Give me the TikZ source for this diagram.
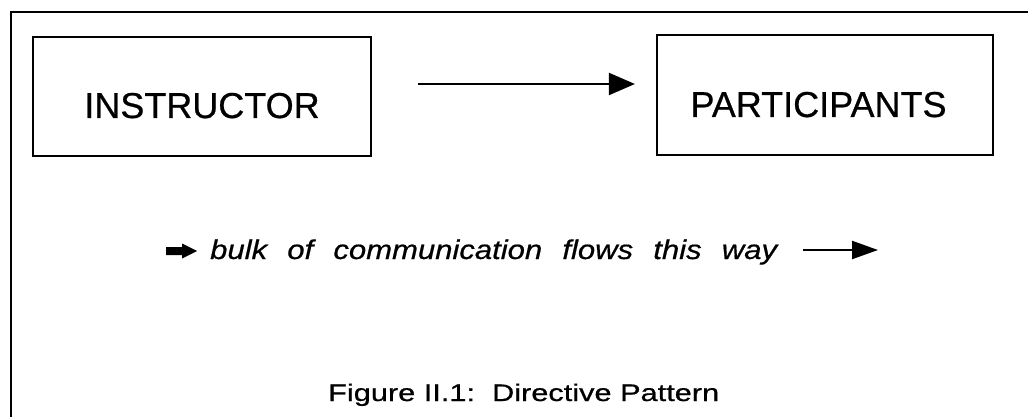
\documentclass[tikz,border=0pt]{standalone}
\usepackage{fontspec}
\setmainfont{Liberation Sans}[FakeBold=0.6]
\usetikzlibrary{arrows.meta}

\begin{document}
\begin{tikzpicture}[x=1pt, y=-1pt,
  frameline/.style={line width=2.2pt, line cap=rect},
  boxstyle/.style={draw, line width=2.2pt, rectangle, inner sep=0pt},
  boxlabel/.style={inner sep=0pt, font=\fontsize{36}{40}\selectfont},
  flowarrow/.style={line width=2.2pt, -{Triangle[length=26pt, width=22pt]}},
  smallarrow/.style={line width=2.2pt, -{Triangle[length=26pt, width=18pt]}}]

  \useasboundingbox (0,0) rectangle (1028,417);

  % outer frame (left and top edges)
  \draw[frameline] (11,417) -- (11,12) -- (1028,12);

  % the two boxes
  \node[boxstyle, minimum width=338pt, minimum height=119pt] (instr) at (202,96.5) {};
  \node[boxstyle, minimum width=336pt, minimum height=120pt] (part) at (825,95) {};
  \node[boxlabel, anchor=base] at ([yshift=-21.5pt]instr.center) {INSTRUCTOR};
  \node[boxlabel, anchor=base] at ([xshift=-6.5pt, yshift=-22pt]part.center) {PARTICIPANTS};

  % main connector
  \draw[flowarrow, shorten <=46pt, shorten >=21pt]
    ([yshift=12.5pt]instr.east) -- ([yshift=11pt]part.west);

  % legend line
  \fill (166,247) -- (182,247) -- (182,243.5) -- (197,251) -- (182,258.5) -- (182,255) -- (166,255) -- cycle;
  \node[inner sep=0pt, anchor=base west] (bulk) at (210,259)
    {\scalebox{1.15}[1]{\makebox[493pt][s]{\fontsize{27}{31}\selectfont\itshape bulk of communication flows this way}}};
  \coordinate (f1) at (803,250);
  \coordinate (f2) at (878,250);
  \draw[smallarrow] (f1) -- (f2);

  % caption
  \node[inner sep=0pt, anchor=base west] (cap) at (328,401)
    {\scalebox{1.28}[1]{\fontsize{24}{28}\selectfont Figure II.1:\ \ Directive Pattern}};
\end{tikzpicture}
\end{document}
